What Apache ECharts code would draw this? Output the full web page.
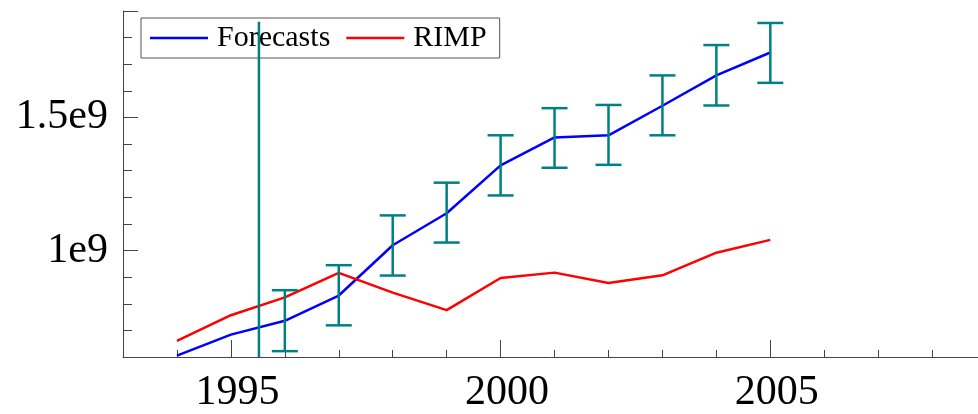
<!DOCTYPE html>
<html>
<head>
<meta charset="utf-8">
<script src="https://cdn.jsdelivr.net/npm/echarts@6/dist/echarts.min.js"></script>
<style>html,body{margin:0;padding:0;background:#fff}#c{width:978px;height:414px}</style>
</head>
<body>
<div id="c"></div>
<script>
// ---- data (values in units of 1e9) ----
var years = [1994, 1995, 1996, 1997, 1998, 1999, 2000, 2001, 2002, 2003, 2004, 2005];
var forecasts = [0.605, 0.684, 0.736, 0.831, 1.020, 1.140, 1.320, 1.425, 1.433, 1.544, 1.658, 1.744];
var rimp = [0.661, 0.757, 0.824, 0.916, 0.842, 0.776, 0.897, 0.917, 0.878, 0.907, 0.992, 1.040];
var errYears = [1996, 1997, 1998, 1999, 2000, 2001, 2002, 2003, 2004, 2005];
var errLow = [0.622, 0.719, 0.906, 1.030, 1.207, 1.311, 1.322, 1.433, 1.545, 1.630];
var errHigh = [0.851, 0.945, 1.132, 1.255, 1.433, 1.535, 1.547, 1.658, 1.772, 1.855];
var vlineX = 1995.52;
var vlineRange = [0.6, 1.86];
var seriesNames = ['Forecasts', 'RIMP'];
var SCALE = 1e9;

var FONT = 'Liberation Serif';
var TEAL = '#008080';
var AXIS = '#444';

function pairs(xs, ys) { return xs.map(function (x, i) { return [x, ys[i] * SCALE]; }); }
var errData = errYears.map(function (x, i) { return [x, errLow[i] * SCALE, errHigh[i] * SCALE]; });

var chart = echarts.init(document.getElementById('c'), null, { renderer: 'canvas' });
chart.setOption({
  animation: false,
  backgroundColor: '#fff',
  grid: { left: 123, right: 0, top: 11, bottom: 56 },
  legend: {
    data: seriesNames,
    left: 141, top: 18,
    orient: 'horizontal',
    icon: 'rect',
    itemWidth: 58, itemHeight: 2.5,
    itemGap: 16,
    padding: [5, 13, 5, 9],
    borderColor: '#555', borderWidth: 1,
    textStyle: { fontFamily: FONT, fontSize: 30, color: '#000', padding: [0, 0, 0, 4] }
  },
  xAxis: {
    type: 'value', min: 1993, max: 2008.85, splitNumber: 3,
    axisLine: { show: true, lineStyle: { color: AXIS, width: 1 } },
    axisTick: { show: true, inside: true, length: 17, lineStyle: { color: AXIS } },
    minorTick: { show: true, splitNumber: 5, length: 7, lineStyle: { color: AXIS } },
    splitLine: { show: false },
    axisLabel: {
      fontFamily: FONT, fontSize: 42, color: '#000', margin: 15,
      padding: [0, 0, 0, 13],
      showMinLabel: false, showMaxLabel: false,
      formatter: function (v) { return (Math.abs(v % 5) < 1e-6) ? String(Math.round(v)) : ''; }
    }
  },
  yAxis: {
    type: 'value', min: 0.6 * SCALE, max: 1.9 * SCALE, splitNumber: 3,
    axisLine: { show: true, lineStyle: { color: AXIS, width: 1 } },
    axisTick: { show: true, inside: true, length: 15, lineStyle: { color: AXIS } },
    minorTick: { show: true, splitNumber: 5, length: 9, lineStyle: { color: AXIS } },
    splitLine: { show: false },
    axisLabel: {
      fontFamily: FONT, fontSize: 42, color: '#000', margin: 15,
      showMinLabel: false, showMaxLabel: false,
      formatter: function (v) {
        var r = Math.round(v / SCALE * 1000) / 1000;
        if (Math.abs(r * 2 - Math.round(r * 2)) > 1e-6) return '';
        return r + 'e9';
      }
    }
  },
  series: [
    {
      name: seriesNames[0], type: 'line', data: pairs(years, forecasts),
      showSymbol: false, symbol: 'none', z: 3,
      lineStyle: { color: '#0000ff', width: 2.5 }, itemStyle: { color: '#0000ff' }
    },
    {
      name: seriesNames[1], type: 'line', data: pairs(years, rimp),
      showSymbol: false, symbol: 'none', z: 3,
      lineStyle: { color: '#ff0000', width: 2.5 }, itemStyle: { color: '#ff0000' }
    },
    {
      name: 'errors', type: 'custom', data: errData, z: 4,
      renderItem: function (params, api) {
        var lo = api.coord([api.value(0), api.value(1)]);
        var hi = api.coord([api.value(0), api.value(2)]);
        var hw = 13;
        var st = { stroke: TEAL, lineWidth: 2.5 };
        return {
          type: 'group', children: [
            { type: 'line', shape: { x1: lo[0], y1: lo[1], x2: hi[0], y2: hi[1] }, style: st },
            { type: 'line', shape: { x1: lo[0] - hw, y1: lo[1], x2: lo[0] + hw, y2: lo[1] }, style: st },
            { type: 'line', shape: { x1: hi[0] - hw, y1: hi[1], x2: hi[0] + hw, y2: hi[1] }, style: st }
          ]
        };
      }
    },
    {
      name: 'vline', type: 'custom', z: 10,
      data: [[vlineX, vlineRange[0] * SCALE, vlineRange[1] * SCALE]],
      renderItem: function (params, api) {
        var lo = api.coord([api.value(0), api.value(1)]);
        var hi = api.coord([api.value(0), api.value(2)]);
        return { type: 'line', shape: { x1: lo[0], y1: lo[1], x2: hi[0], y2: hi[1] }, style: { stroke: TEAL, lineWidth: 2.5 } };
      }
    }
  ]
});
</script>
</body>
</html>
